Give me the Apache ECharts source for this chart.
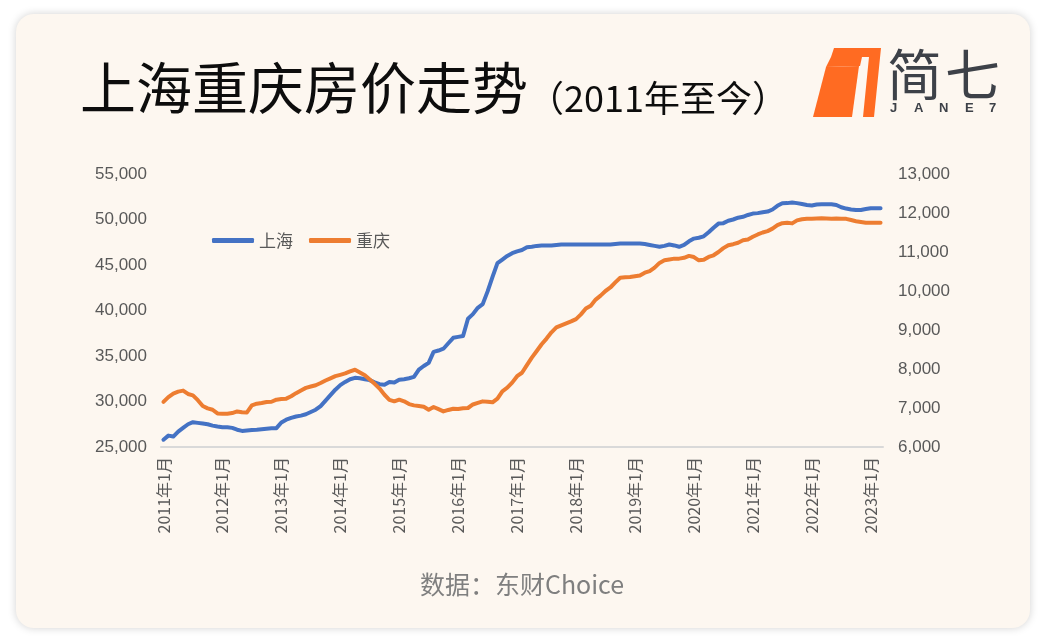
<!DOCTYPE html>
<html>
<head>
<meta charset="utf-8">
<script src="https://cdn.jsdelivr.net/npm/echarts@6/dist/echarts.min.js"></script>
<style>
  html, body { margin: 0; padding: 0; background: #ffffff; }
  #wrap { position: relative; width: 1044px; height: 643px; overflow: hidden; }
  #card { position: absolute; left: 16px; top: 14px; width: 1014px; height: 614px;
          background: #FDF7F0; border-radius: 18px;
          box-shadow: 0 0 8px rgba(0,0,0,0.18); }
  #chart { position: absolute; left: 0; top: 0; width: 1044px; height: 643px; }
</style>
</head>
<body>
<div id="wrap">
  <div id="card"></div>
  <div id="chart"></div>
</div>
<script>
// ---- Data (monthly, 2011年1月 – 2023年3月) ----
const startYear = 2011;
const monthCount = 147;
const categories = [];
for (let i = 0; i < monthCount; i++) {
  const y = startYear + Math.floor(i / 12);
  const m = (i % 12) + 1;
  categories.push(y + '年' + m + '月');
}

const seriesNames = ['上海', '重庆'];

// 上海 (left axis, 元/㎡)
const shanghai = [
  25800, 26250, 26150, 26700, 27100, 27500, 27730, 27650, 27580, 27500, 27350, 27250,
  27180, 27180, 27100, 26900, 26770, 26820, 26880, 26900, 26950, 27000, 27050, 27070,
  27700, 28000, 28200, 28350, 28450, 28600, 28850, 29100, 29500, 30100, 30700, 31300,
  31800, 32150, 32450, 32600, 32550, 32450, 32350, 32100, 31900, 31850, 32150, 32100,
  32400, 32450, 32550, 32700, 33500, 33900, 34250, 35450, 35600, 35800, 36400, 37000,
  37100, 37200, 39100, 39600, 40300, 40700, 42100, 43700, 45200, 45600, 46000, 46300,
  46500, 46650, 46950, 47000, 47100, 47140, 47150, 47150, 47200, 47250, 47250, 47250,
  47250, 47250, 47250, 47250, 47250, 47250, 47250, 47250, 47300, 47350, 47350, 47350,
  47350, 47350, 47300, 47200, 47100, 47000, 47100, 47250, 47150, 47000, 47200, 47600,
  47900, 48000, 48150, 48600, 49100, 49550, 49600, 49870, 50000, 50200, 50300, 50500,
  50650, 50700, 50800, 50870, 51100, 51500, 51790, 51800, 51870, 51800, 51700, 51600,
  51540, 51650, 51680, 51680, 51680, 51600, 51350, 51200, 51100, 51050, 51050, 51150,
  51240, 51240, 51240
];

// 重庆 (right axis, 元/㎡)
const chongqing = [
  7155, 7280, 7370, 7420, 7446, 7360, 7325, 7200, 7050, 6990, 6956, 6860,
  6852, 6852, 6870, 6912, 6890, 6886, 7067, 7110, 7128, 7155, 7160, 7214,
  7230, 7240, 7300, 7380, 7450, 7516, 7550, 7584, 7640, 7705, 7760, 7816,
  7850, 7886, 7940, 7981, 7910, 7840, 7731, 7620, 7498, 7340, 7210, 7170,
  7214, 7170, 7100, 7067, 7050, 7030, 6956, 7025, 6970, 6912, 6950, 6982,
  6975, 6995, 7000, 7090, 7130, 7170, 7160, 7145, 7240, 7429, 7520, 7650,
  7816, 7904, 8100, 8291, 8460, 8635, 8780, 8940, 9066, 9120, 9170, 9220,
  9280, 9400, 9550, 9624, 9780, 9882, 10000, 10090, 10220, 10340, 10350, 10360,
  10380, 10399, 10470, 10512, 10600, 10720, 10787, 10810, 10830, 10830, 10850, 10900,
  10870, 10787, 10800, 10874, 10916, 11000, 11100, 11174, 11200, 11236, 11300, 11321,
  11391, 11450, 11500, 11535, 11600, 11690, 11740, 11752, 11734, 11810, 11840, 11855,
  11855, 11860, 11864, 11860, 11855, 11858, 11855, 11850, 11820, 11790, 11770, 11752,
  11752, 11752, 11752
];

// Axis ranges / ticks
const leftAxis = { min: 25000, max: 55000, interval: 5000 };
const rightAxis = { min: 6000, max: 13000, interval: 1000 };

const titleMain = '上海重庆房价走势';
const titleSub = '（2011年至今）';
const sourceText = '数据：东财Choice';
const logoChars = ['简', '七'];
const logoLetters = ['J', 'A', 'N', 'E', '7'];

// ---- Chart ----
const chart = echarts.init(document.getElementById('chart'), null, { renderer: 'canvas' });
const fmt = v => Number(v).toLocaleString('en-US');
const FONT = '"Noto Sans CJK SC", "Noto Sans", sans-serif';
const AXFONT = '"Liberation Sans", "Noto Sans CJK SC", sans-serif';

const logoCharX = [887, 945];
const logoLetterX = [890, 914, 939, 965, 989];
const graphics = [
  {
    type: 'text', left: 80, top: 60,
    style: {
      text: '{a|' + titleMain + '}{b|' + titleSub + '}',
      rich: {
        a: { fontSize: 56, fontFamily: FONT, fill: '#0d0d0d', verticalAlign: 'bottom', lineHeight: 70 },
        b: { fontSize: 36, fontFamily: FONT, fill: '#0d0d0d', verticalAlign: 'bottom', lineHeight: 56 }
      }
    }
  },
  { type: 'polygon', shape: { points: [[834,48],[881,48],[874,117],[863,117],[869,57],[831,57]] }, style: { fill: '#FF6B22' } },
  { type: 'polygon', shape: { points: [[826,67],[859,66],[852,117],[813,117]] }, style: { fill: '#FF6B22' } },
  { type: 'polygon', shape: { points: [[831,57],[862,57],[860,66],[826,67]] }, style: { fill: '#FF6B22' } }
];
logoChars.forEach((ch, i) => {
  graphics.push({
    type: 'text', left: logoCharX[i], top: 47,
    style: { text: ch, fontSize: 55, fontFamily: FONT, fill: '#3d4148' }
  });
});
logoLetters.forEach((ch, i) => {
  graphics.push({
    type: 'text', left: logoLetterX[i], top: 102,
    style: { text: ch, fontSize: 13, fontWeight: 'bold', fontFamily: AXFONT, fill: '#3d4148' }
  });
});
graphics.push({
  type: 'text', left: 'center', top: 572,
  style: { text: sourceText, fontSize: 25, fontFamily: FONT, fill: '#7f7f7f' }
});

const option = {
  backgroundColor: 'transparent',
  animation: false,
  color: ['#4472C4', '#ED7D31'],
  grid: { left: 161, right: 161, top: 174, bottom: 196 },
  legend: {
    left: 207, top: 227,
    icon: 'roundRect', itemWidth: 42, itemHeight: 5, itemGap: 16,
    textStyle: { fontSize: 17, color: '#595959', fontFamily: FONT },
    data: seriesNames
  },
  xAxis: {
    type: 'category',
    data: categories,
    boundaryGap: true,
    axisLine: { lineStyle: { color: '#D9D9D9', width: 2 } },
    axisTick: { show: false },
    axisLabel: { interval: 11, rotate: 90, margin: 10, fontSize: 16, color: '#595959', fontFamily: FONT }
  },
  yAxis: [
    {
      type: 'value', min: leftAxis.min, max: leftAxis.max, interval: leftAxis.interval,
      axisLine: { show: false }, axisTick: { show: false }, splitLine: { show: false },
      axisLabel: { formatter: fmt, fontSize: 17, color: '#595959', margin: 14, fontFamily: AXFONT }
    },
    {
      type: 'value', min: rightAxis.min, max: rightAxis.max, interval: rightAxis.interval,
      axisLine: { show: false }, axisTick: { show: false }, splitLine: { show: false },
      axisLabel: { formatter: fmt, fontSize: 17, color: '#595959', margin: 15, fontFamily: AXFONT }
    }
  ],
  series: [
    {
      name: seriesNames[0], type: 'line', yAxisIndex: 0, data: shanghai,
      symbol: 'none', lineStyle: { width: 4, color: '#4472C4', cap: 'round', join: 'round' }
    },
    {
      name: seriesNames[1], type: 'line', yAxisIndex: 1, data: chongqing,
      symbol: 'none', lineStyle: { width: 4, color: '#ED7D31', cap: 'round', join: 'round' }
    }
  ],
  graphic: graphics
};
chart.setOption(option);
</script>
</body>
</html>
